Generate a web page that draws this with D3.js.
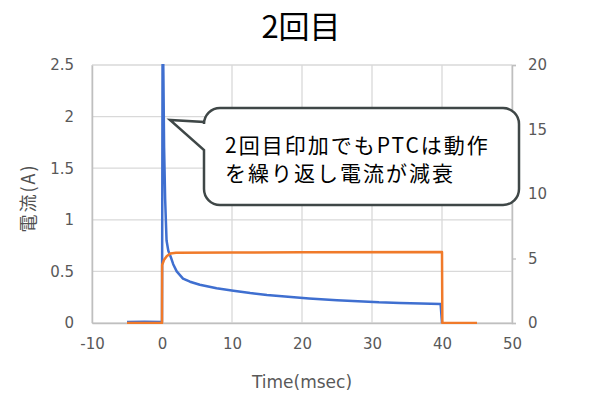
<!DOCTYPE html>
<html lang="ja">
<head>
<meta charset="UTF-8">
<title>2回目</title>
<script src="https://d3js.org/d3.v7.min.js"></script>
<style>
  body { margin: 0; background: #fff; }
  text { font-family: "DejaVu Sans", Verdana, sans-serif; }
  .jp { font-family: "Noto Sans CJK JP", "Noto Sans", sans-serif; }
</style>
</head>
<body>
<svg id="chart" width="600" height="400"></svg>
<script>
// chart data
var xTicks = [-10, 0, 10, 20, 30, 40, 50];
var leftTicks = [0, 0.5, 1, 1.5, 2, 2.5];
var rightTicks = [0, 5, 10, 15, 20];

// current (A), left axis
var currentT = [-5, -2.5, 0, 0.1, 0.2, 0.3, 0.45, 0.65, 0.9, 1.25, 1.6, 2.1, 3, 4, 5.4, 7.8, 10.2, 12.6, 15, 18, 21, 25, 28, 31, 34, 37, 39.8, 40];
var currentV = [0.01, 0.012, 0.01, 3.0, 2.4, 1.7, 1.2, 0.8, 0.7, 0.64, 0.57, 0.5, 0.43, 0.4, 0.37, 0.336, 0.313, 0.29, 0.272, 0.255, 0.238, 0.22, 0.21, 0.2, 0.195, 0.19, 0.185, 0];

// voltage, right axis
var voltT = [-5, 0, 0.02, 0.3, 0.7, 1.2, 2, 10, 20, 40, 40.05, 45];
var voltV = [0, 0, 4.5, 4.9, 5.2, 5.38, 5.45, 5.46, 5.48, 5.5, 0, 0];

var titleText = "2回目";
var yLabel = "電流(A)";
var xLabel = "Time(msec)";
var noteLines = ["2回目印加でもPTCは動作", "を繰り返し電流が減衰"];

var svg = d3.select("#chart");
var mLeft = 92, mRight = 512, mTop = 65, mBottom = 323;

var x = d3.scaleLinear().domain([-10, 50]).range([mLeft, mRight]);
var yL = d3.scaleLinear().domain([0, 2.5]).range([mBottom, mTop]);
var yR = d3.scaleLinear().domain([0, 20]).range([mBottom, mTop]);

// gridlines
svg.append("g").selectAll("line").data(leftTicks).enter().append("line")
  .attr("x1", mLeft).attr("x2", mRight)
  .attr("y1", function(d){ return yL(d); }).attr("y2", function(d){ return yL(d); })
  .attr("stroke", "#d9d9d9").attr("stroke-width", 1.3);
svg.append("g").selectAll("line").data(xTicks).enter().append("line")
  .attr("x1", function(d){ return x(d); }).attr("x2", function(d){ return x(d); })
  .attr("y1", mTop).attr("y2", mBottom)
  .attr("stroke", "#d9d9d9").attr("stroke-width", 1.3);

// axes
var axisColor = "#bfbfbf", labelColor = "#595959";
var plain = function(d){ return String(d); };
var gx = svg.append("g").attr("transform", "translate(0," + mBottom + ")")
  .call(d3.axisBottom(x).tickValues(xTicks).tickSize(0).tickPadding(12).tickFormat(plain));
var gl = svg.append("g").attr("transform", "translate(" + mLeft + ",0)")
  .call(d3.axisLeft(yL).tickValues(leftTicks).tickSize(0).tickPadding(18).tickFormat(plain));
var gr = svg.append("g").attr("transform", "translate(" + mRight + ",0)")
  .call(d3.axisRight(yR).tickValues(rightTicks).tickSize(4).tickPadding(12).tickFormat(plain));
[gx, gl, gr].forEach(function(g){
  g.select(".domain").attr("stroke", axisColor).attr("stroke-width", 1.5);
  g.selectAll(".tick line").attr("stroke", axisColor).attr("stroke-width", 1.3);
  g.selectAll(".tick text").attr("fill", labelColor).style("font-size", "15px")
    .style("font-family", "DejaVu Sans, Verdana, sans-serif");
});
gx.selectAll(".tick text").attr("dy", "0.9em");

// lines
svg.append("clipPath").attr("id", "plotClip").append("rect")
  .attr("x", mLeft).attr("y", mTop - 1).attr("width", mRight - mLeft).attr("height", mBottom - mTop + 2);

var plot = svg.append("g").attr("clip-path", "url(#plotClip)");

plot.append("path")
  .datum(d3.range(currentT.length))
  .attr("fill", "none").attr("stroke", "#3f6fd0").attr("stroke-width", 2.5)
  .attr("stroke-linejoin", "round")
  .attr("d", d3.line().x(function(i){ return x(currentT[i]); }).y(function(i){ return yL(currentV[i]); }));

plot.append("path")
  .datum(d3.range(voltT.length))
  .attr("fill", "none").attr("stroke", "#f07a2a").attr("stroke-width", 2.5)
  .attr("stroke-linejoin", "round")
  .attr("d", d3.line().x(function(i){ return x(voltT[i]); }).y(function(i){ return yR(voltV[i]); }));

// title and axis labels
svg.append("text").attr("class", "jp")
  .attr("x", 301).attr("y", 38).attr("text-anchor", "middle")
  .style("font-size", "31px").attr("fill", "#000").text(titleText);

svg.append("text")
  .attr("x", 302).attr("y", 388).attr("text-anchor", "middle")
  .style("font-size", "17px").attr("fill", labelColor).text(xLabel);

svg.append("text").attr("class", "jp")
  .attr("transform", "translate(35,198) rotate(-90)").attr("text-anchor", "middle")
  .style("font-size", "18px").style("letter-spacing", "2px").attr("fill", "#505050").text(yLabel);

// callout bubble
var bx0 = 204, bx1 = 519, by0 = 108, by1 = 205, r = 16;
var tip = [170, 120], p0 = 122, p1 = 150;
var bubble = d3.path();
bubble.moveTo(bx0 + r, by0);
bubble.lineTo(bx1 - r, by0);
bubble.arcTo(bx1, by0, bx1, by0 + r, r);
bubble.lineTo(bx1, by1 - r);
bubble.arcTo(bx1, by1, bx1 - r, by1, r);
bubble.lineTo(bx0 + r, by1);
bubble.arcTo(bx0, by1, bx0, by1 - r, r);
bubble.lineTo(bx0, p1);
bubble.lineTo(tip[0], tip[1]);
bubble.lineTo(bx0, p0);
bubble.lineTo(bx0, by0 + r);
bubble.arcTo(bx0, by0, bx0 + r, by0, r);
bubble.closePath();
svg.append("path").attr("d", bubble.toString())
  .attr("fill", "#fff").attr("stroke", "#3f4747").attr("stroke-width", 2.5)
  .attr("stroke-linejoin", "miter");

svg.append("g").selectAll("text").data(noteLines).enter().append("text")
  .attr("class", "jp")
  .attr("x", 225).attr("y", function(d, i){ return 153 + i * 28; })
  .style("font-size", "21px").style("letter-spacing", "2px").attr("fill", "#000")
  .text(function(d){ return d; });
</script>
</body>
</html>
